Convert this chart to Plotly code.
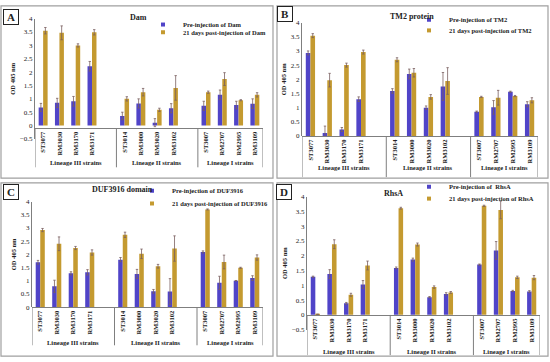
import plotly.graph_objects as go

W, H = 550, 362

strains = ["ST3077", "RM3030", "RM3170", "RM3171",
           "ST3014", "RM3000", "RM3020", "RM3102",
           "ST3007", "RM2707", "RM2995", "RM3109"]
groups = ["Lineage III strains", "Lineage II strains", "Lineage I strains"]

# Panel A - Dam
dam_pre = [0.68, 0.85, 0.91, 2.22, 0.36, 0.83, 0.11, 0.65, 0.74, 1.15, 0.77, 0.82]
dam_pre_err = [0.15, 0.17, 0.18, 0.18, 0.14, 0.17, 0.15, 0.17, 0.17, 0.18, 0.14, 0.18]
dam_post = [3.55, 3.47, 3.00, 3.49, 1.00, 1.25, 0.59, 1.41, 1.25, 1.74, 0.95, 1.15]
dam_post_err = [0.12, 0.26, 0.06, 0.10, 0.08, 0.14, 0.06, 0.46, 0.04, 0.24, 0.02, 0.08]

# Panel B - TM2 protein
tm2_pre = [2.93, 0.11, 0.23, 1.30, 1.59, 2.19, 1.00, 1.75, 0.86, 1.01, 1.56, 1.12]
tm2_pre_err = [0.07, 0.24, 0.07, 0.08, 0.08, 0.17, 0.06, 0.49, 0.02, 0.24, 0.02, 0.09]
tm2_post = [3.54, 1.97, 2.50, 2.96, 2.69, 2.23, 1.38, 1.94, 1.38, 1.35, 1.41, 1.26]
tm2_post_err = [0.07, 0.24, 0.07, 0.07, 0.07, 0.15, 0.08, 0.47, 0.02, 0.26, 0.02, 0.09]

# Panel C - DUF3916 domain
duf_pre = [1.70, 0.79, 1.28, 1.32, 1.80, 1.26, 0.60, 0.59, 2.09, 0.92, 1.00, 1.10]
duf_pre_err = [0.07, 0.23, 0.06, 0.10, 0.08, 0.17, 0.07, 0.49, 0.04, 0.25, 0.01, 0.09]
duf_post = [2.92, 2.40, 2.24, 2.07, 2.74, 2.02, 1.55, 2.22, 3.70, 1.71, 1.49, 1.88]
duf_post_err = [0.06, 0.26, 0.06, 0.10, 0.10, 0.18, 0.07, 0.48, 0.02, 0.26, 0.02, 0.10]

# Panel D - RhsA
rhs_pre = [1.29, 1.38, 0.39, 1.03, 1.59, 1.87, 0.60, 0.71, 1.70, 2.18, 0.81, 0.79]
rhs_pre_err = [0.02, 0.15, 0.03, 0.13, 0.03, 0.05, 0.02, 0.04, 0.02, 0.30, 0.02, 0.03]
rhs_post = [0.02, 2.39, 0.68, 1.67, 3.61, 2.38, 0.94, 0.76, 3.69, 3.55, 1.27, 1.26]
rhs_post_err = [0.00, 0.15, 0.05, 0.15, 0.03, 0.05, 0.04, 0.03, 0.02, 0.30, 0.04, 0.07]

PRE = "#5044c8"
POST = "#c49a30"
ERR = "#7a6060"
FONT = "Liberation Serif"
GRID = "#7f7f7f"


def pad(v, blank=None):
    return list(v[0:4]) + [blank] + list(v[4:8]) + [blank] + list(v[8:12])


x_cats = pad(strains)
x_cats[4] = " "
x_cats[9] = "  "
group_centers = [2, 7, 11.5]
group_edges = [-0.5, 4.5, 9.5, 13.5]


def px(x):
    return x / W


def py(y):
    return 1 - y / H


panels = [
    dict(k="", title="Dam", pre=dam_pre, pe=dam_pre_err, post=dam_post, qe=dam_post_err,
         n1="Pre-injection of Dam", n2="21 days post-injection of Dam",
         xd=(35, 263), yd=(15, 138), yr=[-0.5, 4], xpos=127, tpos=(138, 14),
         leg=(183, 21, 29), lab=(11, 13), divb=167, gy=162),
    dict(k="2", title="TM2 protein", pre=tm2_pre, pe=tm2_pre_err, post=tm2_post, qe=tm2_post_err,
         n1="Pre-injection of TM2", n2="21 days post-injection of TM2",
         xd=(302, 538), yd=(19, 135), yr=[0, 4], xpos=135, tpos=(412, 13),
         leg=(449, 16, 27), lab=(285, 10.5), divb=177, gy=167),
    dict(k="3", title="DUF3916 domain", pre=duf_pre, pe=duf_pre_err, post=duf_post, qe=duf_post_err,
         n1="Pre-injection of DUF3916", n2="21 days post-injection of DUF3916",
         xd=(32, 263), yd=(202, 310), yr=[0, 4], xpos=310, tpos=(122, 190),
         leg=(172, 191, 204), lab=(11, 192), divb=349, gy=346),
    dict(k="4", title="RhsA", pre=rhs_pre, pe=rhs_pre_err, post=rhs_post, qe=rhs_post_err,
         n1="Pre-injection of  RhsA", n2="21 days post-injection of RhsA",
         xd=(307, 540), yd=(197, 333), yr=[-0.5, 4], xpos=318, tpos=(393, 194),
         leg=(449, 187, 199), lab=(284, 192), divb=359, gy=355),
]

fig = go.Figure()
layout = dict(
    width=W, height=H, margin=dict(l=0, r=0, t=0, b=0),
    paper_bgcolor="white", plot_bgcolor="white",
    barmode="group", bargap=0.45, bargroupgap=0.0,
    font=dict(family=FONT, size=7, color="#222"),
    showlegend=True,
)
annotations = []
shapes = []

li = 1
for pi, p in enumerate(panels):
    k = p["k"]
    xa = "x" + k
    ya = "y" + k
    for vals, errs, name, col, ly in ((p["pre"], p["pe"], p["n1"], PRE, p["leg"][1]),
                                      (p["post"], p["qe"], p["n2"], POST, p["leg"][2])):
        lg = "legend" if li == 1 else "legend%d" % li
        fig.add_trace(go.Bar(
            x=x_cats, y=pad(vals), name=name, showlegend=False,
            xaxis=xa, yaxis=ya,
            marker=dict(color=col, line=dict(width=0)),
            error_y=dict(type="data", array=pad(errs, 0), visible=True,
                         color=ERR, thickness=0.8, width=1.2),
        ))
        # legend entry (small square key)
        fig.add_trace(go.Scatter(
            x=[None], y=[None], mode="markers", name=name, legend=lg,
            xaxis=xa, yaxis=ya, showlegend=True,
            marker=dict(color=col, symbol="square", size=4),
        ))
        layout[lg] = dict(x=px(p["leg"][0] - 40), y=py(ly), xanchor="left", yanchor="middle",
                          bgcolor="rgba(0,0,0,0)", borderwidth=0, itemwidth=30,
                          font=dict(family=FONT, size=6.5, color="#222", weight="bold"),
                          tracegroupgap=0)
        li += 1

    layout["xaxis" + k] = dict(
        domain=[px(p["xd"][0]), px(p["xd"][1])], type="category",
        categoryorder="array", categoryarray=x_cats, range=[-0.5, 13.5],
        anchor="free", position=py(p["xpos"]),
        showline=True, linecolor=GRID, linewidth=1, ticks="",
        tickangle=-90, showgrid=False,
        tickfont=dict(family=FONT, size=6.5, color="#222", weight="bold"),
    )
    layout["yaxis" + k] = dict(
        domain=[py(p["yd"][1]), py(p["yd"][0])], anchor=xa, range=p["yr"],
        dtick=0.5, showgrid=False, zeroline=False, showline=True,
        linecolor=GRID, linewidth=1, ticks="",
        tickfont=dict(family=FONT, size=7, color="#222"),
        title=dict(text="OD 405 nm", font=dict(family=FONT, size=6.5, color="#222", weight="bold"),
                   standoff=3),
    )
    for g, c in zip(groups, group_centers):
        annotations.append(dict(xref=xa, yref="paper", x=c, y=py(p["gy"]), text=g,
                                showarrow=False, xanchor="center", yanchor="middle",
                                font=dict(family=FONT, size=6.5, color="#222", weight="bold")))
    for e in group_edges:
        shapes.append(dict(type="line", xref=xa, yref="paper", x0=e, x1=e,
                           y0=py(p["xpos"]), y1=py(p["divb"]),
                           line=dict(color=GRID, width=1)))
    annotations.append(dict(xref="paper", yref="paper", x=px(p["tpos"][0]), y=py(p["tpos"][1]),
                            text="<b>%s</b>" % p["title"], showarrow=False,
                            xanchor="center", yanchor="middle",
                            font=dict(family=FONT, size=8, color="#222")))
    annotations.append(dict(xref="paper", yref="paper", x=px(p["lab"][0]), y=py(p["lab"][1]),
                            text="<b>%s</b>" % "ABCD"[pi],
                            showarrow=False, xanchor="center", yanchor="middle",
                            bordercolor="#222", borderwidth=1, borderpad=0,
                            width=14, height=14, bgcolor="white",
                            font=dict(family=FONT, size=11, color="#222")))

for (x0, y0, x1, y1) in [(1, 2, 273, 178), (277, 2, 548, 178), (1, 183, 273, 360), (277, 183, 548, 360)]:
    shapes.append(dict(type="rect", xref="paper", yref="paper",
                       x0=px(x0), x1=px(x1), y0=py(y1), y1=py(y0),
                       line=dict(color="#a0a0a0", width=1.2), fillcolor="rgba(0,0,0,0)", layer="below"))

layout["annotations"] = annotations
layout["shapes"] = shapes
fig.update_layout(**layout)
fig.write_html("out.html", config={"displayModeBar": False},
               post_script="document.body.style.margin='0px';document.body.style.overflow='hidden';")
